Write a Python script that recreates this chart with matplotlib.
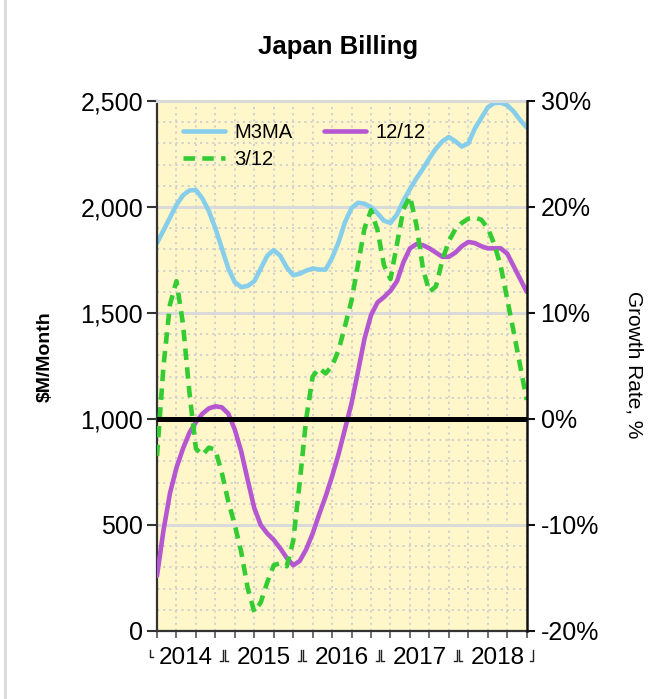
import matplotlib
matplotlib.use('Agg')
import matplotlib.pyplot as plt
from matplotlib.ticker import FuncFormatter, MultipleLocator
from matplotlib.lines import Line2D
from matplotlib.transforms import blended_transform_factory

plt.rcParams['font.family'] = ['Liberation Sans', 'DejaVu Sans']

# ---- data (month index: Jan 2014 = 0) ----
months = list(range(1, 59))
m3ma = [1830, 1890, 1950, 2010, 2055, 2078, 2080, 2040, 1980, 1900,
        1805, 1710, 1645, 1622, 1628, 1650, 1710, 1770, 1797, 1770,
        1715, 1678, 1685, 1700, 1710, 1705, 1705, 1760, 1835, 1930,
        1995, 2020, 2015, 2000, 1970, 1935, 1925, 1965, 2030, 2085,
        2135, 2180, 2230, 2275, 2310, 2330, 2310, 2285, 2300, 2370,
        2420, 2470, 2490, 2492, 2480, 2450, 2410, 2375]
g_3_12 = [-3.5, 5.0, 10.8, 13.0, 9.0, 2.5, -2.8, -3.4, -2.7, -2.9,
          -5.1, -7.8, -10.0, -12.6, -16.0, -18.2, -17.3, -15.4, -13.8, -13.6,
          -13.9, -11.5, -6.0, 0.0, 4.0, 4.8, 4.3, 5.0, 6.5, 8.8,
          11.2, 14.6, 18.0, 19.7, 17.8, 14.5, 13.2, 16.5, 19.8, 21.0,
          18.3, 14.2, 12.0, 12.5, 15.0, 16.8, 17.9, 18.5, 18.9, 19.0,
          18.8, 18.0, 16.5, 14.4, 11.3, 8.2, 5.0, 1.8]
g_12_12 = [-14.8, -10.5, -7.0, -4.6, -2.8, -1.3, -0.3, 0.5, 1.0, 1.2,
           1.1, 0.5, -1.0, -3.1, -5.8, -8.4, -10.0, -10.8, -11.4, -12.2,
           -13.1, -13.8, -13.4, -12.3, -10.8, -9.0, -7.3, -5.4, -3.3, -0.9,
           1.5, 4.5, 7.6, 9.8, 11.0, 11.5, 12.1, 13.0, 14.8, 16.1,
           16.5, 16.4, 16.1, 15.7, 15.3, 15.3, 15.7, 16.3, 16.7, 16.6,
           16.3, 16.1, 16.1, 16.1, 15.6, 14.4, 13.2, 12.0]
years = ['2014', '2015', '2016', '2017', '2018']
year_centers = [5.5, 17.5, 29.5, 41.5, 53.5]
year_bounds = [11.5, 23.5, 35.5, 47.5]

W, H = 666, 699
fig = plt.figure(figsize=(W / 100, H / 100), dpi=100)
L, R, T, B = 157, 526.7, 101, 631
ax = fig.add_axes([L / W, 1 - B / H, (R - L) / W, (B - T) / H])
ax.set_facecolor('#fff7c9')
ax.set_xlim(1, 58)
ax.set_ylim(0, 2500)

# grid
ax.yaxis.set_major_locator(MultipleLocator(500))
ax.yaxis.set_minor_locator(MultipleLocator(100))
ax.set_xticks(list(range(1, 59, 3)))
ax.set_axisbelow(True)
ax.grid(which='minor', axis='y', ls=(0, (1.2, 2.2)), color='#cfcfcf', lw=1.3)
ax.grid(which='major', axis='x', ls=(0, (1.2, 2.2)), color='#cfcfcf', lw=1.3)
ax.grid(which='major', axis='y', ls='-', color='#dadada', lw=2.2)

ax.yaxis.set_major_formatter(FuncFormatter(lambda v, p: f'{int(v):,}'))
ax.tick_params(axis='y', which='major', direction='out', length=7, width=1.5,
               color='#333333', labelsize=18, pad=3)
ax.tick_params(axis='y', which='minor', length=0)
ax.tick_params(axis='x', which='major', direction='out', length=5, width=1.2,
               color='#555555', labelbottom=False)

for s in ['left', 'bottom']:
    ax.spines[s].set_color('#333333')
    ax.spines[s].set_linewidth(1.6)
ax.spines['top'].set_color('#dadada')
ax.spines['top'].set_linewidth(2.2)
ax.spines['right'].set_visible(False)

l1, = ax.plot(months, m3ma, color='#87ceeb', lw=3.3, solid_joinstyle='round',
              solid_capstyle='round', label='M3MA')

ax2 = ax.twinx()
ax2.set_ylim(-20, 30)
ax2.yaxis.set_major_locator(MultipleLocator(10))
ax2.yaxis.set_major_formatter(FuncFormatter(lambda v, p: f'{int(round(v))}%'))
ax2.tick_params(axis='y', direction='out', length=6, width=1.5, color='#111111',
                labelsize=18, pad=4)
for s in ['left', 'bottom', 'top']:
    ax2.spines[s].set_visible(False)
ax2.spines['right'].set_color('#111111')
ax2.spines['right'].set_linewidth(1.8)

l2, = ax2.plot(months, g_12_12, color='#b657d2', lw=3.3, solid_joinstyle='round',
               solid_capstyle='round', label='12/12')
l3, = ax2.plot(months, g_3_12, color='#33cc33', lw=3.3, ls=(0, (2.5, 1.6)),
               label='3/12')
ax2.axhline(0, color='black', lw=3.6, zorder=6)

ax2.legend(handles=[l1, l3, l2], labels=['M3MA', '3/12', '12/12'], ncol=2,
           loc='upper left', bbox_to_anchor=(183 / W, 1 - 123 / H),
           bbox_transform=fig.transFigure, frameon=False, fontsize=14.5,
           handlelength=2.1, handletextpad=0.45, columnspacing=1.55,
           labelspacing=0.38, borderpad=0, borderaxespad=0)

# year labels with brackets
bt = blended_transform_factory(ax.transData, ax.transAxes)
y_top = (B - 650) / (B - T)
y_bot = (B - 661) / (B - T)
y_bot_short = (B - 657) / (B - T)
y_txt = (B - 658.5) / (B - T)
for c, yl in zip(year_centers, years):
    ax.text(c, y_txt, yl, transform=bt, ha='center', va='center', fontsize=17.5,
            clip_on=False)
foot = 0.45

def bracket(x, side, yb):
    ax.add_line(Line2D([x, x, x + side * foot], [y_top, yb, yb],
                       transform=bt, color='#222222', lw=1.0, clip_on=False))

bracket(-0.1, 1, y_bot_short)
for bnd in year_bounds:
    bracket(bnd - 0.3, -1, y_bot)
    bracket(bnd + 0.05, 1, y_bot)
bracket(59.0, -1, y_bot)

# labels and title
fig.text(338 / W, 1 - 54 / H, 'Japan Billing', ha='center', va='baseline',
         fontsize=18.5, fontweight='bold')
fig.text(45 / W, 1 - 357 / H, '$M/Month', rotation=90, ha='center', va='center',
         fontsize=14, fontweight='bold')
fig.text(634 / W, 1 - 365 / H, 'Growth Rate, %', rotation=270, ha='center',
         va='center', fontsize=15)

fig.add_artist(Line2D([4.5 / W, 4.5 / W], [0, 1], transform=fig.transFigure,
                      color='#d9d9d9', lw=2))

fig.savefig('out.png', dpi=100)
